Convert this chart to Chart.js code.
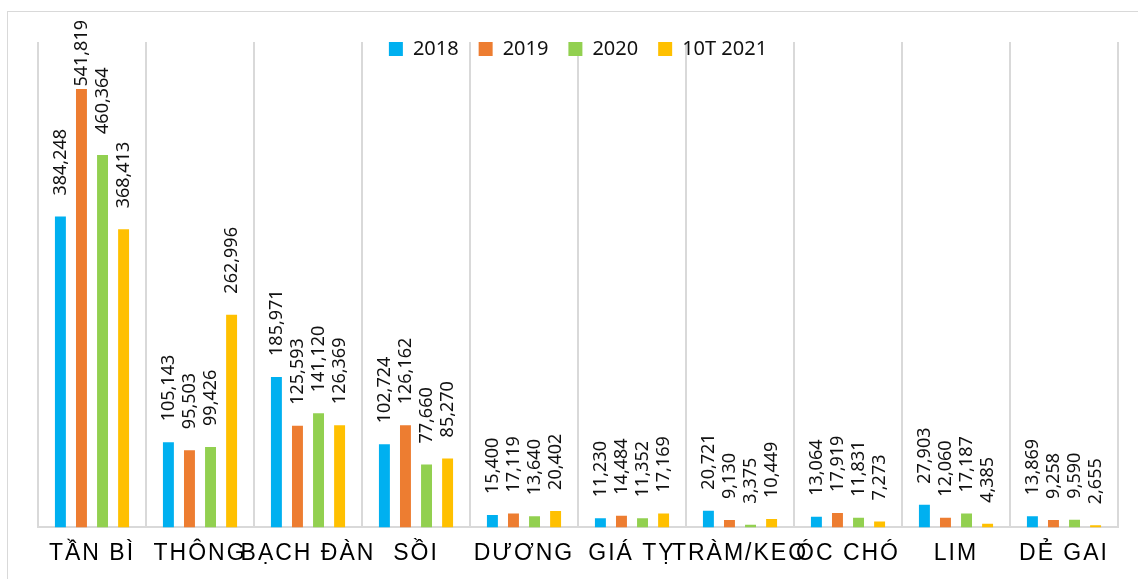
<!DOCTYPE html>
<html>
<head>
<meta charset="utf-8">
<script src="https://cdn.jsdelivr.net/npm/chart.js@4.4.1/dist/chart.umd.min.js"></script>
<style>
  html, body { margin: 0; padding: 0; background: #fff; overflow: hidden; }
  #wrap { position: relative; width: 1138px; height: 579px; }
  #khung { position: absolute; left: 7px; top: 11px; width: 1300px; height: 700px; border: 1px solid #d9d9d9; }
  #bieudo { position: absolute; left: 0; top: 0; }
</style>
</head>
<body>
<div id="wrap">
  <div id="khung"></div>
  <canvas id="bieudo" width="1138" height="579"></canvas>
</div>
<script>
// Danh mục loại gỗ
const loaiGo = ['TẦN BÌ', 'THÔNG', 'BẠCH ĐÀN', 'SỒI', 'DƯƠNG', 'GIÁ TỴ', 'TRÀM/KEO', 'ÓC CHÓ', 'LIM', 'DẺ GAI'];
const nhanNam = ['2018', '2019', '2020', '10T 2021'];

// Số liệu từng năm
const nam2018 = [384248, 105143, 185971, 102724, 15400, 11230, 20721, 13064, 27903, 13869];
const nam2019 = [541819, 95503, 125593, 126162, 17119, 14484, 9130, 17919, 12060, 9258];
const nam2020 = [460364, 99426, 141120, 77660, 13640, 11352, 3375, 11831, 17187, 9590];
const nam2021 = [368413, 262996, 126369, 85270, 20402, 17169, 10449, 7273, 4385, 2655];

const mauCot = ['#00B0F0', '#ED7D31', '#92D050', '#FFC000'];
const duLieu = [nam2018, nam2019, nam2020, nam2021];

// Nhãn số liệu xoay dọc phía trên cột
const nhanSoLieu = {
    id: 'nhanSoLieu',
    beforeInit(chart) {
        // chú thích nằm đè lên vùng vẽ như bản gốc
        const fitGoc = chart.legend.fit;
        chart.legend.fit = function () {
            fitGoc.call(this);
            this.height = 23;
        };
    },
    afterLayout(chart) {
        // trả lại chiều cao để không bị cắt khi vẽ
        chart.legend.bottom = chart.legend.top + 60;
        chart.legend.height = 60;
    },
    afterDatasetsDraw(chart) {
        const ctx = chart.ctx;
        ctx.save();
        ctx.font = '18px "Noto Sans"';
        ctx.fillStyle = '#111';
        ctx.textAlign = 'left';
        ctx.textBaseline = 'middle';
        chart.data.datasets.forEach((ds, i) => {
            chart.getDatasetMeta(i).data.forEach((cot, j) => {
                const chu = ds.data[j].toLocaleString('en-US');
                const w = ctx.measureText(chu).width;
                let y = cot.y - 21;
                if (y - w < 20) y = 20 + w;
                ctx.save();
                ctx.translate(cot.x, y);
                ctx.rotate(-Math.PI / 2);
                ctx.fillText(chu, 0, 0);
                ctx.restore();
            });
        });
        ctx.restore();
        // giãn chữ cho nhãn trục x (vẽ sau, z = 1)
        ctx.letterSpacing = '2px';
    },
    afterDraw(chart) {
        chart.ctx.letterSpacing = '0px';
    }
};

const ctx = document.getElementById('bieudo').getContext('2d');
const bieuDo = new Chart(ctx, {
    type: 'bar',
    data: {
        labels: loaiGo,
        datasets: duLieu.map((d, i) => ({
            label: nhanNam[i],
            data: d,
            backgroundColor: mauCot[i],
            borderWidth: 0,
            categoryPercentage: 0.78,
            barPercentage: 0.52
        }))
    },
    options: {
        responsive: false,
        animation: false,
        layout: { padding: { left: 38, right: 20, top: 19, bottom: 0 } },
        plugins: {
            tooltip: { enabled: false },
            legend: {
                position: 'top',
                labels: {
                    boxWidth: 14,
                    boxHeight: 14,
                    padding: 20,
                    color: '#111',
                    font: { family: '"Noto Sans"', size: 20 }
                }
            }
        },
        scales: {
            x: {
                grid: { color: '#d9d9d9', lineWidth: 2, drawTicks: false },
                border: { color: '#d9d9d9', width: 2 },
                ticks: {
                    z: 1,
                    autoSkip: false,
                    maxRotation: 0,
                    padding: 12,
                    color: '#000',
                    font: { family: '"Liberation Sans"', size: 23 }
                }
            },
            y: {
                display: false,
                beginAtZero: true,
                min: 0,
                max: 600000
            }
        }
    },
    plugins: [nhanSoLieu]
});
</script>
</body>
</html>
